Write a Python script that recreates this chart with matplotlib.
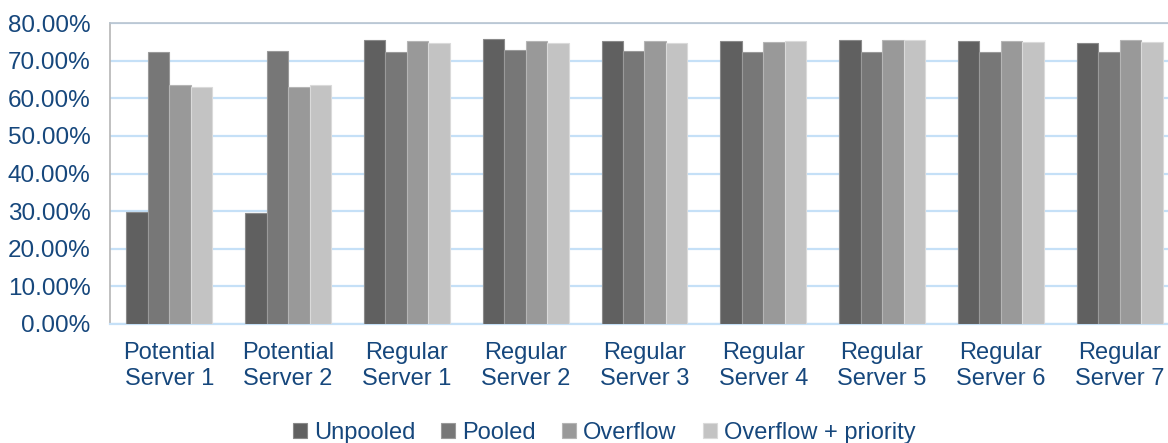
import numpy as np
import matplotlib
matplotlib.use("Agg")
import matplotlib.pyplot as plt
from matplotlib.ticker import FuncFormatter

plt.rcParams['font.family'] = ['Liberation Sans', 'DejaVu Sans']

categories = ["Potential\nServer 1", "Potential\nServer 2", "Regular\nServer 1",
              "Regular\nServer 2", "Regular\nServer 3", "Regular\nServer 4",
              "Regular\nServer 5", "Regular\nServer 6", "Regular\nServer 7"]
series_names = ["Unpooled", "Pooled", "Overflow", "Overflow + priority"]
unpooled = [29.9, 29.6, 75.4, 75.7, 75.2, 75.2, 75.4, 75.2, 74.6]
pooled = [72.2, 72.5, 72.3, 72.9, 72.5, 72.3, 72.3, 72.3, 72.3]
overflow = [63.5, 63.0, 75.2, 75.2, 75.2, 75.0, 75.5, 75.2, 75.5]
overflow_priority = [63.0, 63.5, 74.6, 74.8, 74.8, 75.2, 75.4, 75.0, 75.0]
y_ticks = [0, 10, 20, 30, 40, 50, 60, 70, 80]

colors = ["#606060", "#777777", "#999999", "#c3c3c3"]
edges = ["#8a8a8a", "#9a9a9a", "#b5b5b5", "#dadada"]
text_color = "#16477c"

W, H = 1168, 443
fig = plt.figure(figsize=(W / 100, H / 100), dpi=100)
ax = fig.add_axes([110 / W, (H - 324) / H, 1069 / W, 301 / H])

x = np.arange(len(categories))
bw = 0.181
data = [unpooled, pooled, overflow, overflow_priority]
for i, (vals, c, ec, name) in enumerate(zip(data, colors, edges, series_names)):
    ax.bar(x + (i - 1.5) * bw, vals, width=bw, color=c, edgecolor=ec,
           linewidth=0.8, label=name, zorder=3)

ax.set_xlim(-0.5, len(categories) - 0.5)
ax.set_ylim(0, 80)
ax.set_yticks(y_ticks)
ax.yaxis.set_major_formatter(FuncFormatter(lambda v, p: f"{v:.2f}%"))
ax.set_xticks(x)
ax.set_xticklabels(categories, linespacing=1.22)
ax.tick_params(axis='y', length=0, pad=14, labelsize=17.5, labelcolor=text_color)
ax.tick_params(axis='x', length=0, pad=13, labelsize=17, labelcolor=text_color)
ax.grid(axis='y', color="#c5e0f7", linewidth=1.6, zorder=0)
ax.set_axisbelow(True)

ax.spines['left'].set_color("#b5b5b5")
ax.spines['left'].set_linewidth(1.2)
ax.spines['top'].set_color("#b8c4d0")
ax.spines['top'].set_linewidth(1.2)
ax.spines['bottom'].set_color("#c5e0f7")
ax.spines['bottom'].set_linewidth(1.6)
ax.spines['right'].set_visible(False)

fig.legend(loc='center', bbox_to_anchor=(604 / W, 1 - 433 / H), ncol=4,
           frameon=False, fontsize=17, labelcolor=text_color,
           handlelength=0.6, handleheight=0.6, handletextpad=0.3,
           columnspacing=1.1, borderaxespad=0)

fig.savefig("out.png", dpi=100)
